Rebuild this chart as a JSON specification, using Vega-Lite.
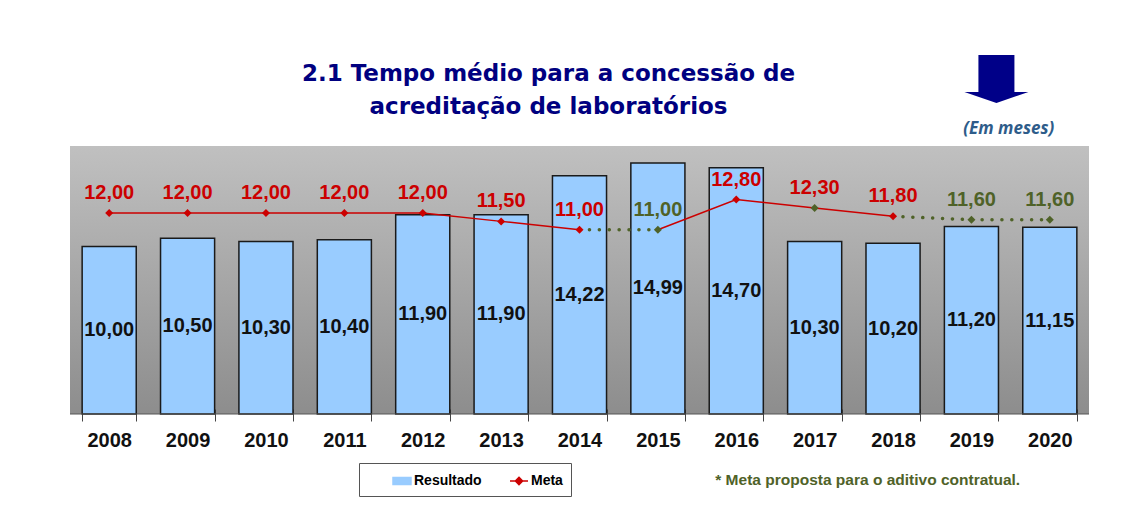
{
  "$schema": "https://vega.github.io/schema/vega-lite/v6.json",
  "width": 1019,
  "height": 268,
  "autosize": {"type": "none"},
  "padding": {"left": 70, "top": 146, "right": 46, "bottom": 101},
  "background": "#ffffff",
  "view": {
    "fill": {"gradient": "linear", "x1": 0, "y1": 0, "x2": 0, "y2": 1,
      "stops": [{"offset": 0, "color": "#c0c0c0"}, {"offset": 1, "color": "#8d8d8d"}]},
    "stroke": null
  },
  "title": {
    "text": ["2.1 Tempo médio para a concessão de", "acreditação de laboratórios"],
    "font": "DejaVu Sans", "fontSize": 23, "fontWeight": "bold", "color": "#000080",
    "anchor": "middle", "dx": -31, "offset": -64, "lineHeight": 33
  },
  "config": {
    "locale": {"number": {"decimal": ",", "thousands": ".", "grouping": [3], "currency": ["R$", ""]}},
    "text": {"font": "Liberation Sans"}
  },
  "datasets": {
    "anos": [
      {"ano": "2008", "resultado": 10.00, "meta": 12.00, "rotulo": "contrato", "marcador": "contrato"},
      {"ano": "2009", "resultado": 10.50, "meta": 12.00, "rotulo": "contrato", "marcador": "contrato"},
      {"ano": "2010", "resultado": 10.30, "meta": 12.00, "rotulo": "contrato", "marcador": "contrato"},
      {"ano": "2011", "resultado": 10.40, "meta": 12.00, "rotulo": "contrato", "marcador": "contrato"},
      {"ano": "2012", "resultado": 11.90, "meta": 12.00, "rotulo": "contrato", "marcador": "contrato"},
      {"ano": "2013", "resultado": 11.90, "meta": 11.50, "rotulo": "contrato", "marcador": "contrato"},
      {"ano": "2014", "resultado": 14.22, "meta": 11.00, "rotulo": "contrato", "marcador": "contrato"},
      {"ano": "2015", "resultado": 14.99, "meta": 11.00, "rotulo": "aditivo", "marcador": "aditivo"},
      {"ano": "2016", "resultado": 14.70, "meta": 12.80, "rotulo": "contrato", "marcador": "contrato"},
      {"ano": "2017", "resultado": 10.30, "meta": 12.30, "rotulo": "contrato", "marcador": "aditivo"},
      {"ano": "2018", "resultado": 10.20, "meta": 11.80, "rotulo": "contrato", "marcador": "contrato"},
      {"ano": "2019", "resultado": 11.20, "meta": 11.60, "rotulo": "aditivo", "marcador": "aditivo"},
      {"ano": "2020", "resultado": 11.15, "meta": 11.60, "rotulo": "aditivo", "marcador": "aditivo"}
    ],
    "linhas": [
      {"ano": "2008", "meta": 12.00, "trecho": "A", "tipo": "contrato"},
      {"ano": "2009", "meta": 12.00, "trecho": "A", "tipo": "contrato"},
      {"ano": "2010", "meta": 12.00, "trecho": "A", "tipo": "contrato"},
      {"ano": "2011", "meta": 12.00, "trecho": "A", "tipo": "contrato"},
      {"ano": "2012", "meta": 12.00, "trecho": "A", "tipo": "contrato"},
      {"ano": "2013", "meta": 11.50, "trecho": "A", "tipo": "contrato"},
      {"ano": "2014", "meta": 11.00, "trecho": "A", "tipo": "contrato"},
      {"ano": "2015", "meta": 11.00, "trecho": "B", "tipo": "contrato"},
      {"ano": "2016", "meta": 12.80, "trecho": "B", "tipo": "contrato"},
      {"ano": "2017", "meta": 12.30, "trecho": "B", "tipo": "contrato"},
      {"ano": "2018", "meta": 11.80, "trecho": "B", "tipo": "contrato"},
      {"ano": "2014", "meta": 11.00, "trecho": "C", "tipo": "aditivo"},
      {"ano": "2015", "meta": 11.00, "trecho": "C", "tipo": "aditivo"},
      {"ano": "2018", "meta": 11.80, "trecho": "D", "tipo": "aditivo"},
      {"ano": "2019", "meta": 11.60, "trecho": "D", "tipo": "aditivo"},
      {"ano": "2020", "meta": 11.60, "trecho": "D", "tipo": "aditivo"}
    ],
    "nota": [{"texto": "* Meta proposta para o aditivo contratual."}]
  },
  "resolve": {"scale": {"y": "independent"}},
  "layer": [
    {
      "layer": [
        {
          "data": {"name": "anos"},
          "mark": {"type": "bar", "stroke": "#1a1a1a", "strokeWidth": 1.5},
          "encoding": {
            "x": {"field": "ano", "type": "ordinal",
              "scale": {"domain": ["2008","2009","2010","2011","2012","2013","2014","2015","2016","2017","2018","2019","2020"], "paddingInner": 0.31, "paddingOuter": 0.155},
              "axis": {"title": null, "labelFont": "Liberation Sans", "labelFontSize": 20, "labelFontWeight": "bold", "labelColor": "#111111", "labelAngle": 0, "labelPadding": 9, "domain": false, "ticks": true, "tickBand": "extent", "tickSize": 12, "tickColor": "#444444", "tickWidth": 1, "offset": -5, "grid": false}},
            "y": {"field": "resultado", "type": "quantitative", "scale": {"domain": [0, 16], "nice": false}, "axis": null},
            "color": {"datum": "Resultado", "type": "nominal",
              "scale": {"domain": ["Resultado", "Meta"], "range": ["#99ccff", "#cc0000"]},
              "legend": {
                "title": null, "orient": "none", "legendX": 289, "legendY": 317, "direction": "horizontal",
                "strokeColor": "#555555", "fillColor": "#ffffff", "padding": 8,
                "labelFont": "Liberation Sans", "labelFontSize": 14, "labelFontWeight": "bold", "labelColor": "#000000",
                "symbolType": "square", "symbolSize": 324, "symbolOffset": 25, "columnPadding": 2, "labelOffset": 2,
                "encode": {"symbols": {"update": {
                  "shape": {"signal": "datum.value === 'Meta' ? 'M-1,0H1M0,-0.4L0.4,0L0,0.4L-0.4,0Z' : 'M-1,-0.4H1V0.4H-1Z'"},
                  "fill": {"signal": "datum.value === 'Meta' ? '#cc0000' : '#99ccff'"},
                  "stroke": {"signal": "datum.value === 'Meta' ? '#cc0000' : '#1a1a1a'"},
                  "strokeWidth": {"value": 1.5},
                  "opacity": {"value": 1}
                }}}
              }}
          }
        },
        {
          "data": {"name": "nota"},
          "mark": {"type": "rule", "color": "#555555", "strokeWidth": 1},
          "encoding": {"y": {"datum": 0, "type": "quantitative", "scale": {"domain": [0, 16], "nice": false}}}
        },
        {
          "data": {"name": "linhas"},
          "transform": [{"filter": "datum.tipo === 'contrato'"}],
          "mark": {"type": "line", "strokeWidth": 1.5},
          "encoding": {
            "x": {"field": "ano", "type": "ordinal"},
            "y": {"field": "meta", "type": "quantitative", "scale": {"domain": [0, 16], "nice": false}},
            "detail": {"field": "trecho"},
            "color": {"datum": "Meta", "type": "nominal",
              "legend": {
                "title": null, "orient": "none", "legendX": 289, "legendY": 317, "direction": "horizontal",
                "strokeColor": "#555555", "fillColor": "#ffffff", "padding": 8,
                "labelFont": "Liberation Sans", "labelFontSize": 14, "labelFontWeight": "bold", "labelColor": "#000000",
                "symbolType": "square", "symbolSize": 324, "symbolOffset": 25, "columnPadding": 2, "labelOffset": 2,
                "encode": {"symbols": {"update": {
                  "shape": {"signal": "datum.value === 'Meta' ? 'M-1,0H1M0,-0.4L0.4,0L0,0.4L-0.4,0Z' : 'M-1,-0.4H1V0.4H-1Z'"},
                  "fill": {"signal": "datum.value === 'Meta' ? '#cc0000' : '#99ccff'"},
                  "stroke": {"signal": "datum.value === 'Meta' ? '#cc0000' : '#1a1a1a'"},
                  "strokeWidth": {"value": 1.5},
                  "opacity": {"value": 1}
                }}}
              }}
          }
        },
        {
          "data": {"name": "linhas"},
          "transform": [{"filter": "datum.tipo === 'aditivo'"}],
          "mark": {"type": "line", "strokeWidth": 3.5, "color": "#4f6228", "strokeDash": [0.1, 9.8], "strokeCap": "round"},
          "encoding": {
            "x": {"field": "ano", "type": "ordinal"},
            "y": {"field": "meta", "type": "quantitative", "scale": {"domain": [0, 16], "nice": false}},
            "detail": {"field": "trecho"}
          }
        },
        {
          "data": {"name": "anos"},
          "mark": {"type": "point", "shape": "diamond", "filled": true, "size": 64, "opacity": 1},
          "encoding": {
            "x": {"field": "ano", "type": "ordinal"},
            "y": {"field": "meta", "type": "quantitative", "scale": {"domain": [0, 16], "nice": false}},
            "fill": {"condition": {"test": "datum.marcador === 'aditivo'", "value": "#4f6228"}, "value": "#cc0000"}
          }
        },
        {
          "data": {"name": "anos"},
          "mark": {"type": "text", "fontSize": 20, "fontWeight": "bold", "baseline": "middle", "dy": -20},
          "encoding": {
            "x": {"field": "ano", "type": "ordinal"},
            "y": {"field": "meta", "type": "quantitative", "scale": {"domain": [0, 16], "nice": false}},
            "text": {"field": "meta", "type": "quantitative", "format": ".2f"},
            "color": {"condition": {"test": "datum.rotulo === 'aditivo'", "value": "#4f6228"}, "value": "#cc0000"}
          }
        },
        {
          "data": {"name": "nota"},
          "mark": {"type": "point", "shape": "M-0.5625,-0.75L0.5625,-0.75L0.5625,0.406L1,0.406L0,0.75L-1,0.406L-0.5625,0.406Z", "filled": true, "size": 4096, "color": "#000088", "opacity": 1, "xOffset": 25},
          "encoding": {
            "x": {"datum": "2019", "type": "ordinal"},
            "y": {"datum": 20, "type": "quantitative", "scale": {"domain": [0, 16], "nice": false}}
          }
        },
        {
          "data": {"name": "nota"},
          "mark": {"type": "text", "text": "(Em meses)", "font": "Open Sans", "fontSize": 17, "fontStyle": "italic", "fontWeight": "bold", "color": "#2e5c8a", "baseline": "middle", "xOffset": -41},
          "encoding": {
            "x": {"datum": "2020", "type": "ordinal"},
            "y": {"datum": 17, "type": "quantitative", "scale": {"domain": [0, 16], "nice": false}}
          }
        },
        {
          "data": {"name": "nota"},
          "mark": {"type": "text", "font": "Liberation Sans", "fontSize": 15.5, "fontWeight": "bold", "color": "#4f6228", "baseline": "middle", "align": "left", "xOffset": -21},
          "encoding": {
            "x": {"datum": "2016", "type": "ordinal"},
            "y": {"datum": -3.94, "type": "quantitative", "scale": {"domain": [0, 16], "nice": false}},
            "text": {"field": "texto"}
          }
        }
      ]
    },
    {
      "data": {"name": "anos"},
      "mark": {"type": "text", "fontSize": 20, "fontWeight": "bold", "baseline": "middle", "color": "#111111"},
      "encoding": {
        "x": {"field": "ano", "type": "ordinal"},
        "y": {"field": "resultado", "type": "quantitative", "scale": {"domain": [0, 32], "nice": false}, "axis": null},
        "text": {"field": "resultado", "type": "quantitative", "format": ".2f"}
      }
    }
  ]
}
